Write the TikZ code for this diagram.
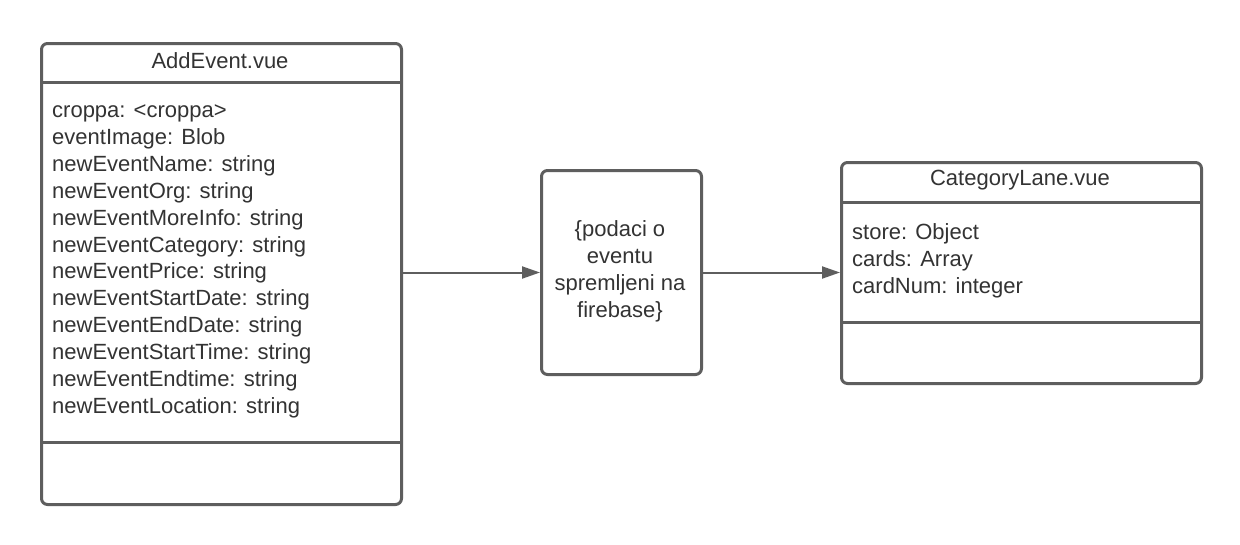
\documentclass[tikz,border=0pt]{standalone}
\usepackage{fontspec}
\setmainfont{Liberation Sans}
\usetikzlibrary{arrows.meta}
\definecolor{lc}{HTML}{5E5E5E}
\definecolor{tc}{HTML}{333333}
\tikzset{
  umlbox/.style={draw=lc, line width=3pt, rounded corners=6pt, inner sep=0pt, anchor=north west, fill=white},
  divider/.style={draw=lc, line width=3pt},
  txt/.style={text=tc, font=\fontsize{22}{26.9}\selectfont, inner sep=0pt},
  attr/.style={txt, anchor=base west},
  conn/.style={draw=lc, line width=2pt, -{Triangle[length=18pt,width=12pt]}}
}
\begin{document}
\begin{tikzpicture}[x=1pt,y=-1pt]
\useasboundingbox[fill=white] (0,0) rectangle (1240,544);
% AddEvent box
\node[umlbox, minimum width=360pt, minimum height=461pt] (A) at (40,42) {};
\node[txt] (At) at (220,61) {AddEvent.vue};
\draw[divider] ([yshift=-40pt]A.north west) -- ([yshift=-40pt]A.north east);
\draw[divider] ([yshift=64pt]A.south west) -- ([yshift=64pt]A.south east);
\foreach \t [count=\i] in {croppa: <croppa>, eventImage: Blob, newEventName: string, newEventOrg: string, newEventMoreInfo: string, newEventCategory: string, newEventPrice: string, newEventStartDate: string, newEventEndDate: string, newEventStartTime: string, newEventEndtime: string, newEventLocation: string}
  \node[attr] (a\i) at (52,{117.5+(\i-1)*26.9}) {\t};
% middle box
\node[umlbox, minimum width=160pt, minimum height=204pt] (M) at (540,169) {};
\node[txt, align=center] (Mt) at (620,271) {\{podaci o\\eventu\\spremljeni na\\firebase\}};
% CategoryLane box
\node[umlbox, minimum width=360pt, minimum height=221pt] (C) at (840,161) {};
\node[txt] (Ct) at (1020,180) {CategoryLane.vue};
\draw[divider] ([yshift=-41pt]C.north west) -- ([yshift=-41pt]C.north east);
\draw[divider] ([yshift=63pt]C.south west) -- ([yshift=63pt]C.south east);
\node[attr] (c1) at (852,239.5) {store: Object};
\node[attr] (c2) at (852,266.4) {cards: Array};
\node[attr] (c3) at (852,293.3) {cardNum: integer};
% connectors
\draw[conn] (A.east |- M.west) -- (M.west);
\draw[conn] (M.east) -- (C.west |- M.east);
\end{tikzpicture}
\end{document}
